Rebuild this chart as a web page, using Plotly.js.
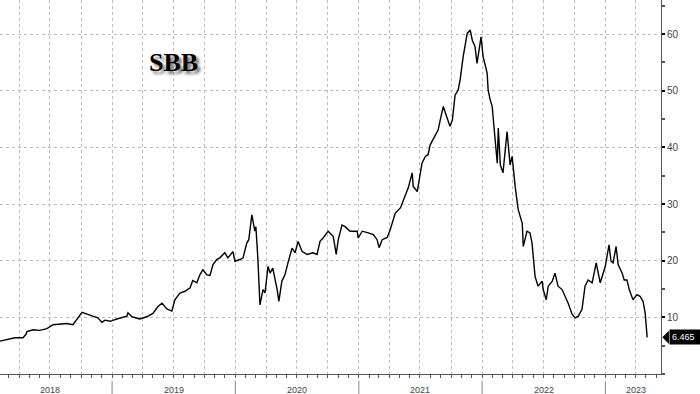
<!DOCTYPE html>
<html>
<head>
<meta charset="utf-8">
<script src="https://cdn.plot.ly/plotly-3.0.1.min.js"></script>
<style>html,body{margin:0;padding:0;background:#fff;}#chart{width:700px;height:394px;}</style>
</head>
<body>
<div id="chart"></div>
<script>
// Time positions as decimal years
const yearFrac = [
2018.091,2018.172,2018.213,2018.278,2018.302,2018.310,2018.359,2018.416,2018.473,2018.521,
2018.635,2018.684,2018.724,2018.757,2018.781,2018.805,2018.846,2018.887,2018.919,2018.943,
2018.984,2019.041,2019.122,2019.130,2019.162,2019.227,2019.284,2019.333,2019.373,2019.406,
2019.446,2019.487,2019.511,2019.552,2019.592,2019.633,2019.657,2019.690,2019.714,2019.738,
2019.771,2019.795,2019.820,2019.852,2019.876,2019.917,2019.941,2019.982,2019.998,2020.039,
2020.063,2020.095,2020.112,2020.136,2020.144,2020.160,2020.168,2020.185,2020.201,2020.225,
2020.241,2020.266,2020.282,2020.306,2020.339,2020.355,2020.379,2020.404,2020.428,2020.460,
2020.485,2020.509,2020.542,2020.582,2020.631,2020.663,2020.688,2020.712,2020.753,2020.793,
2020.817,2020.834,2020.866,2020.890,2020.931,2020.988,2020.996,2021.028,2021.077,2021.118,
2021.150,2021.166,2021.191,2021.231,2021.256,2021.296,2021.337,2021.361,2021.402,2021.434,
2021.442,2021.475,2021.515,2021.540,2021.564,2021.580,2021.621,2021.645,2021.661,2021.686,
2021.718,2021.742,2021.759,2021.783,2021.807,2021.824,2021.848,2021.880,2021.905,2021.921,
2021.945,2021.961,2021.994,2022.010,2022.043,2022.051,2022.067,2022.083,2022.099,2022.124,
2022.132,2022.148,2022.172,2022.205,2022.229,2022.245,2022.270,2022.294,2022.327,2022.335,
2022.367,2022.391,2022.408,2022.416,2022.432,2022.456,2022.489,2022.497,2022.521,2022.538,
2022.570,2022.594,2022.619,2022.651,2022.675,2022.700,2022.732,2022.757,2022.781,2022.813,
2022.838,2022.862,2022.894,2022.927,2022.959,2023.000,2023.032,2023.049,2023.065,2023.089,
2023.105,2023.138,2023.154,2023.178,2023.195,2023.227,2023.260,2023.284,2023.308,2023.324,
2023.341
];
// Share price (SEK)
const price = [
5.8,6.2,6.4,6.4,7.0,7.5,7.8,7.7,8.0,8.7,
8.9,8.7,9.9,10.9,10.7,10.5,10.2,9.9,9.1,9.5,
9.3,9.7,10.2,10.8,10.1,9.7,10.1,10.7,11.9,12.5,
11.5,11.1,13.1,14.3,14.6,15.2,16.5,16.1,17.5,18.4,
17.5,17.4,19.3,20.2,20.5,21.4,20.5,21.6,19.9,20.2,
20.5,23.1,23.7,28.1,27.2,25.2,26.0,20.2,12.2,14.9,
14.3,19.0,17.8,18.7,14.9,12.8,16.4,17.5,19.6,22.2,
21.4,23.4,21.6,21.1,21.4,21.1,23.4,24.0,25.2,24.3,
21.1,23.7,26.3,26.0,25.2,25.2,24.0,25.2,24.9,24.6,
23.7,22.3,23.7,24.1,25.5,28.4,29.3,30.4,32.8,35.5,
33.1,32.2,37.2,38.4,38.7,40.4,42.2,43.1,44.8,47.2,
45.1,43.7,44.8,49.2,50.1,51.9,56.0,60.1,60.7,58.9,
57.8,54.8,59.5,56.0,53.1,50.1,48.4,47.2,43.1,37.2,
43.4,36.9,35.5,42.8,36.9,38.4,33.1,29.0,26.6,22.5,
25.2,24.9,23.1,21.4,17.2,15.5,16.4,14.9,13.1,15.5,
16.4,17.8,15.5,14.9,13.7,12.5,10.5,9.9,10.2,11.4,
15.5,16.6,16.1,19.6,16.1,19.0,22.8,19.9,19.6,22.5,
19.3,17.8,16.6,16.6,14.9,13.1,14.0,13.7,12.8,10.8,
6.465
];
const yearLabels = ['2018','2019','2020','2021','2022','2023'];
const yearLabelPos = [2018.5,2019.5,2020.5,2021.5,2022.5,2023.25];
const yearBounds = [2019,2020,2021,2022,2023];
const yTicks = [10,20,30,40,50,60];
const tickerName = 'SBB';
const lastLabel = '6.465';

function fracToDate(t){
  const y = Math.floor(t);
  const s = Date.UTC(y,0,1), e = Date.UTC(y+1,0,1);
  return new Date(s + (t-y)*(e-s)).toISOString().slice(0,10);
}
const xDates = yearFrac.map(fracToDate);
const lastVal = price[price.length-1];

const shapes = yearBounds.map(b => ({
  type:'line', xref:'x', yref:'paper', x0:fracToDate(b), x1:fracToDate(b),
  y0:-0.018, y1:-0.06, line:{color:'#888', width:1}
}));
shapes.push({
  type:'path', xref:'paper', yref:'y',
  path:'M 1.002,'+lastVal+' L 1.012,'+(lastVal+1.15)+' L 1.012,'+(lastVal-1.15)+' Z',
  fillcolor:'#000', line:{width:0}
});

const annotations = yearLabels.map((t,i)=>({
  text:t, x:fracToDate(yearLabelPos[i]), xref:'x', yref:'paper', y:0, yanchor:'top',
  yshift:-9, showarrow:false, font:{family:'Liberation Sans, Arial', size:9, color:'#444'}
}));
annotations.push({
  text:'<b>'+tickerName+'</b>', xref:'paper', yref:'paper', x:0.262, y:0.834,
  xanchor:'center', yanchor:'middle',
  showarrow:false, font:{family:'Liberation Serif, Times New Roman', size:26, color:'#000', shadow:'3px 3px 3px #777'}
});
annotations.push({
  text:lastLabel, xref:'paper', yref:'y', x:1.012, y:lastVal, xanchor:'left', yanchor:'middle',
  showarrow:false, bgcolor:'#000', borderpad:2, width:28, align:'left',
  font:{family:'Liberation Sans, Arial', size:9, color:'#fff'}
});

const trace = {
  x:xDates, y:price, type:'scatter', mode:'lines',
  line:{color:'#000', width:1.4}, hoverinfo:'skip'
};

const layout = {
  width:700, height:394,
  margin:{l:0, r:39, t:0, b:20, pad:0},
  paper_bgcolor:'#fff', plot_bgcolor:'#fff',
  showlegend:false,
  xaxis:{
    type:'date', range:[fracToDate(2018.091), fracToDate(2023.454)],
    tick0:'2018-01-01', dtick:'M3', showticklabels:false,
    showgrid:true, gridcolor:'#bbb', griddash:'dot', gridwidth:1,
    ticks:'outside', ticklen:3, tickcolor:'#555',
    minor:{dtick:'M1', ticks:'outside', ticklen:3, tickcolor:'#555', showgrid:false},
    showline:true, linecolor:'#555', linewidth:1, zeroline:false, fixedrange:true
  },
  yaxis:{
    side:'right', range:[0,66], tickvals:yTicks,
    showgrid:true, gridcolor:'#bbb', griddash:'dot', gridwidth:1,
    ticks:'outside', ticklen:3, tickwidth:2, tickcolor:'#000',
    minor:{dtick:5, ticks:'outside', ticklen:3, tickcolor:'#555', showgrid:false},
    showline:true, linecolor:'#555', linewidth:1, zeroline:false,
    tickfont:{family:'Liberation Sans, Arial', size:10, color:'#444'},
    fixedrange:true
  },
  shapes:shapes,
  annotations:annotations
};

Plotly.newPlot('chart',[trace],layout,{displayModeBar:false, staticPlot:true});
</script>
</body>
</html>
